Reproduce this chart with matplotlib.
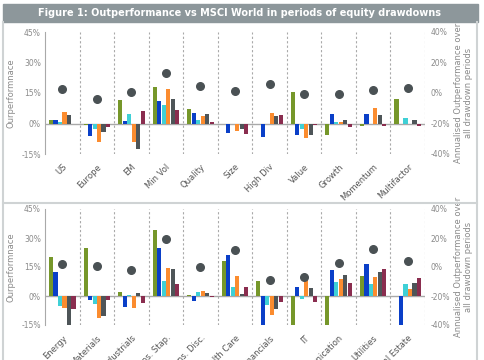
import matplotlib.pyplot as plt
from matplotlib.patches import Rectangle
from matplotlib.lines import Line2D
import numpy as np

# factor / region panel
factors = ["US", "Europe", "EM", "Min Vol", "Quality", "Size", "High Div",
           "Value", "Growth", "Momentum", "Multifactor"]
f_green = [1.5, -0.7, 11.5, 18.0, 7.0, 0.0, 0.0, 15.3, -5.6, -1.0, 12.2]
f_blue = [1.8, -6.0, 1.0, 11.2, 5.4, -4.6, -6.6, -5.8, 4.6, 4.5, 0.0]
f_cyan = [0.8, -2.6, 4.5, 8.9, 1.8, 0.0, 0.0, -2.8, 0.5, 0.0, 2.8]
f_orange = [5.6, -8.9, -9.2, 16.8, 3.5, -3.5, 5.4, -7.2, 0.5, 7.6, 0.0]
f_grey = [4.0, -4.0, -12.7, 12.2, 4.5, -2.6, 3.6, -5.8, 1.5, 4.0, 1.5]
f_maroon = [0.0, -1.5, 6.0, 6.8, 0.8, -5.0, 4.3, -0.8, -1.5, -1.0, -1.0]
f_annual = [2.3, -4.1, 0.7, 13.1, 4.6, 1.6, 6.2, -0.6, -0.6, 2.0, 3.1]

# sector panel
sectors = ["Energy", "Materials", "Industrials", "Cons. Stap.", "Cons. Disc.",
           "Health Care", "Financials", "IT", "Communication", "Utilities",
           "Real Estate"]
s_green = [20.3, 24.8, 2.1, 34.0, 0.7, 17.9, 7.9, -15.0, -15.0, 10.3, 0.0]
s_blue = [12.2, -2.0, -5.7, 24.8, -2.4, 21.0, -15.0, 4.7, 13.3, 16.6, -15.0]
s_cyan = [-5.0, -4.1, 0.5, 7.8, 1.9, 4.8, -4.8, -1.4, 7.2, 6.0, 6.0]
s_orange = [-6.4, -11.5, -6.4, 14.5, 2.8, 10.5, -10.0, 8.1, 8.6, 10.0, 3.4]
s_grey = [-15.0, -10.5, 1.4, 14.0, 1.4, 0.9, -6.6, 4.3, 11.0, 12.4, 6.7]
s_maroon = [-6.7, -2.0, -3.6, 6.4, -0.7, 4.8, -2.9, -2.9, 6.7, 13.8, 9.1]
s_annual = [2.0, 0.7, -2.1, 19.5, 0.0, 11.9, -9.0, -7.1, 2.5, 12.4, 4.3]

COLORS = ["#76972a", "#0a3fc8", "#3fd0d6", "#fb8c2f", "#4e5558", "#8a2d4f"]
LINE_GREY = "#a9a9a9"
TEXT_GREY = "#8a8a8a"


def draw_panel(fig, rect, labels, series, annual):
    ax = fig.add_axes(rect)
    x = np.arange(len(labels))
    w = 0.13
    for i, vals in enumerate(series):
        ax.bar(x + (i - 2.5) * w, vals, width=w * 0.92, color=COLORS[i],
               zorder=3)
    ax.set_xlim(-0.5, len(labels) - 0.5)
    ax.set_ylim(-15, 45)
    ax.set_yticks([-15, 0, 15, 30, 45])
    ax.set_yticklabels(["-15%", "0%", "15%", "30%", "45%"])
    ax.axhline(0, color=LINE_GREY, lw=1.0, zorder=2)
    for b in x + 0.5:
        ax.axvline(b, color=LINE_GREY, lw=0.8, ls=(0, (2, 2)), zorder=1)
    for s in ["top", "right", "bottom"]:
        ax.spines[s].set_visible(False)
    ax.spines["left"].set_color(LINE_GREY)
    ax.tick_params(axis="y", length=0, labelsize=5.5, labelcolor=TEXT_GREY,
                   pad=3)
    ax.set_xticks(x)
    ax.set_xticklabels(labels, rotation=45, ha="right",
                       rotation_mode="anchor", fontsize=6,
                       color="#555555")
    ax.tick_params(axis="x", length=0, pad=6)
    ax.set_ylabel("Ourperformnace", fontsize=6, color=TEXT_GREY, labelpad=4)

    ax2 = ax.twinx()
    ax2.scatter(x, annual, s=30, color="#4a5154", zorder=5)
    ax2.set_ylim(-40, 40)
    ax2.set_yticks([-40, -20, 0, 20, 40])
    ax2.set_yticklabels(["-40%", "-20%", "0%", "20%", "40%"])
    for s in ["top", "right", "bottom", "left"]:
        ax2.spines[s].set_visible(False)
    ax2.tick_params(axis="y", length=0, labelsize=5.5, labelcolor=TEXT_GREY,
                    pad=4)
    ax2.set_ylabel("Annualised Outperformance over\nall drawdown periods",
                   fontsize=6, color=TEXT_GREY, labelpad=3,
                   linespacing=1.1)
    return ax


fig = plt.figure(figsize=(4.85, 3.6), dpi=100, facecolor="white")

# title bar
fig.patches.append(Rectangle((3 / 485, 1 - 22 / 360), 475 / 485, 18 / 360,
                             transform=fig.transFigure, color="#8d979b"))
fig.text(240 / 485, 1 - 13 / 360,
         "Figure 1: Outperformance vs MSCI World in periods of equity drawdowns",
         color="white", fontsize=7.0, fontweight="bold",
         ha="center", va="center")

# panel frames
frame = "#cfd3d4"
fig.add_artist(Line2D([3 / 485, 3 / 485], [0, 1 - 22 / 360], color=frame,
                      lw=1.5, transform=fig.transFigure))
fig.add_artist(Line2D([477 / 485, 477 / 485], [0, 1 - 22 / 360], color=frame,
                      lw=1.5, transform=fig.transFigure))
fig.add_artist(Line2D([3 / 485, 477 / 485], [1 - 203 / 360, 1 - 203 / 360],
                      color=frame, lw=1.5, transform=fig.transFigure))

draw_panel(fig, [45 / 485, 1 - 154 / 360, 380 / 485, 122 / 360], factors,
           [f_green, f_blue, f_cyan, f_orange, f_grey, f_maroon], f_annual)
draw_panel(fig, [45 / 485, 1 - 325 / 360, 380 / 485, 116 / 360], sectors,
           [s_green, s_blue, s_cyan, s_orange, s_grey, s_maroon], s_annual)

fig.savefig("out.png", dpi=100, facecolor="white")
plt.close()
